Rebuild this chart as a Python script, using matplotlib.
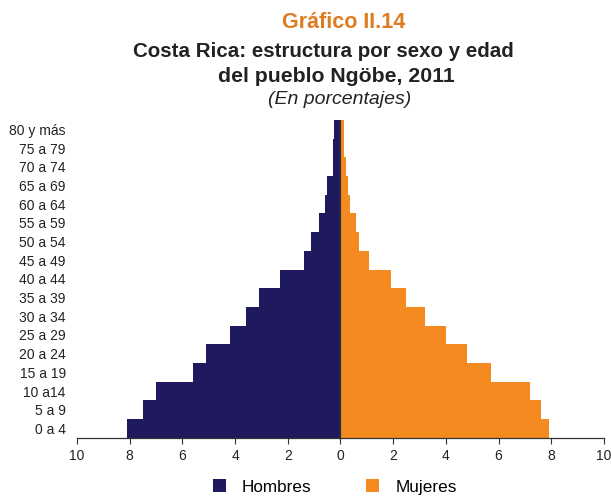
import matplotlib
matplotlib.use("Agg")
import matplotlib.pyplot as plt
from matplotlib.patches import Patch
import numpy as np

plt.rcParams['font.family'] = ['Liberation Sans', 'DejaVu Sans']

age_groups = ["0 a 4", "5 a 9", "10 a14", "15 a 19", "20 a 24", "25 a 29",
              "30 a 34", "35 a 39", "40 a 44", "45 a 49", "50 a 54", "55 a 59",
              "60 a 64", "65 a 69", "70 a 74", "75 a 79", "80 y más"]
hombres = [8.1, 7.5, 7.0, 5.6, 5.1, 4.2, 3.6, 3.1, 2.3, 1.4, 1.1, 0.8,
           0.6, 0.5, 0.3, 0.3, 0.25]
mujeres = [7.9, 7.6, 7.2, 5.7, 4.8, 4.0, 3.2, 2.5, 1.9, 1.1, 0.7, 0.6,
           0.35, 0.3, 0.2, 0.12, 0.12]
x_ticks = [-10, -8, -6, -4, -2, 0, 2, 4, 6, 8, 10]

navy = "#1f1a5e"
orange = "#f58a20"

fig = plt.figure(figsize=(6.11, 4.96), dpi=100)
ax = fig.add_axes([0.126, 0.1175, 0.8625, 0.6405])

y = np.arange(len(age_groups))
ax.barh(y, -np.array(hombres), height=1.0, color=navy, edgecolor="none")
ax.barh(y, mujeres, height=1.0, color=orange, edgecolor="none")
ax.axvline(0, color="#333333", linewidth=0.9)

ax.set_xlim(-10, 10)
ax.set_ylim(-0.5, len(age_groups) - 0.5)
ax.set_xticks(x_ticks)
ax.set_xticklabels([str(abs(t)) for t in x_ticks], fontsize=10, color="#222222")
ax.set_yticks(y)
ax.set_yticklabels(age_groups, fontsize=10, color="#222222")
ax.tick_params(axis="y", length=0, pad=8)
ax.tick_params(axis="x", length=4, width=0.8, color="#333333", pad=4)
for side in ("top", "right", "left"):
    ax.spines[side].set_visible(False)
ax.spines["bottom"].set_color("#333333")
ax.spines["bottom"].set_linewidth(0.9)

fig.text(0.563, 0.954, "Gráfico II.14", ha="center", va="center",
         fontsize=15.5, fontweight="bold", color="#e07b20")
fig.text(0.529, 0.896, "Costa Rica: estructura por sexo y edad", ha="center",
         va="center", fontsize=14.8, fontweight="bold", color="#222222")
fig.text(0.551, 0.846, "del pueblo Ngöbe, 2011", ha="center",
         va="center", fontsize=15.3, fontweight="bold", color="#222222")
fig.text(0.556, 0.800, "(En porcentajes)", ha="center", va="center",
         fontsize=14, fontstyle="italic", color="#222222")

handles = [Patch(facecolor=navy, label="Hombres"),
           Patch(facecolor=orange, label="Mujeres")]
fig.legend(handles=handles, loc="center", bbox_to_anchor=(0.548, 0.018),
           ncol=2, frameon=False, fontsize=12.3, handlelength=0.75,
           handleheight=0.75, columnspacing=3.2, handletextpad=0.95)

fig.savefig("out.png", dpi=100)
